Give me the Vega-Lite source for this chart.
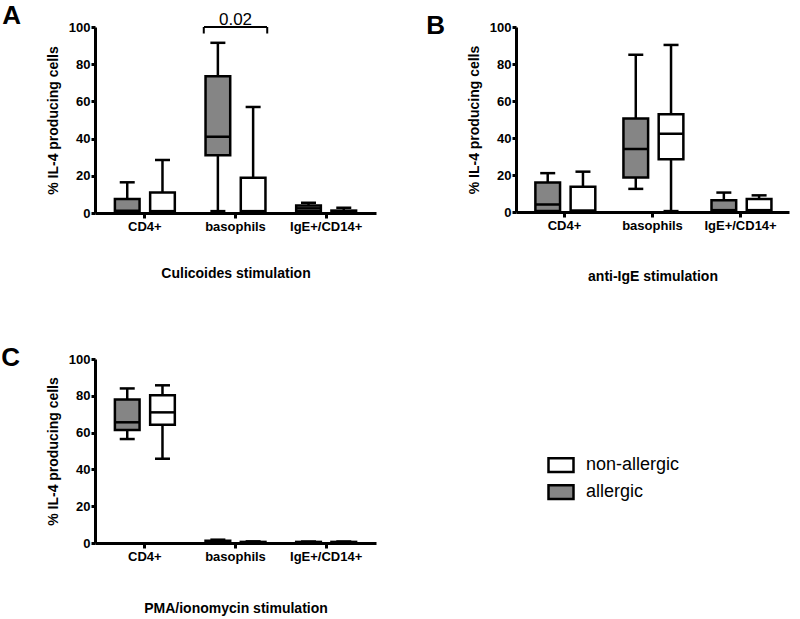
{
  "$schema": "https://vega.github.io/schema/vega-lite/v6.json",
  "padding": {"left": 1, "top": 3, "right": 5, "bottom": 5},
  "background": "white",
  "config": {
    "view": {"stroke": null},
    "font": "Liberation Sans",
    "axis": {"grid": false, "domainColor": "black", "domainWidth": 3, "tickColor": "black", "tickWidth": 3, "labelFont": "Liberation Sans", "labelFontWeight": "bold", "labelFontSize": 13, "labelColor": "black", "titleFont": "Liberation Sans", "titleFontWeight": "bold", "titleFontSize": 14, "titleColor": "black"},
    "axisY": {"tickSize": 4, "labelPadding": 1, "titlePadding": 8, "values": [0, 20, 40, 60, 80, 100]},
    "axisX": {"tickSize": 5, "labelAngle": 0, "labelPadding": 2, "titlePadding": 33},
    "title": {"anchor": "start", "font": "Liberation Sans", "fontSize": 26, "fontWeight": "bold", "color": "black", "offset": 0},
    "tick": {"color": "black", "opacity": 1}
  },
  "spacing": 62,
  "vconcat": [
    {
      "spacing": 50,
      "hconcat": [
        {
          "title": {"text": "A", "dx": -44, "dy": 22},
          "width": 281, "height": 186,
          "data": {"values": [
            {"cell": "CD4+", "group": "allergic", "min": 0, "q1": 0.5, "median": 1.2, "q3": 7.5, "max": 16.5},
            {"cell": "CD4+", "group": "non-allergic", "min": 0, "q1": 0.5, "median": 1, "q3": 11, "max": 28.5},
            {"cell": "basophils", "group": "allergic", "min": 1, "q1": 31, "median": 41, "q3": 73.5, "max": 91.5},
            {"cell": "basophils", "group": "non-allergic", "min": 0, "q1": 0.5, "median": 1, "q3": 19, "max": 57},
            {"cell": "IgE+/CD14+", "group": "allergic", "min": 0.5, "q1": 1, "median": 2.5, "q3": 4, "max": 5.5},
            {"cell": "IgE+/CD14+", "group": "non-allergic", "min": 0, "q1": 0.3, "median": 0.6, "q3": 1.3, "max": 2.8}
          ]},
          "encoding": {
            "x": {"field": "cell", "type": "nominal", "scale": {"domain": ["CD4+", "basophils", "IgE+/CD14+"], "paddingInner": 0.3, "paddingOuter": 0.2}, "axis": {"title": "Culicoides stimulation", "titlePadding": 33}},
            "xOffset": {"field": "group", "type": "nominal", "scale": {"domain": ["allergic", "non-allergic"], "paddingInner": 0.3, "paddingOuter": 0.05}}
          },
          "layer": [
            {"mark": {"type": "rule", "color": "black", "strokeWidth": 2.5}, "encoding": {"y": {"field": "min", "type": "quantitative", "scale": {"domain": [0, 100], "nice": false}, "axis": {"title": "% IL-4 producing cells"}}, "y2": {"field": "max"}}},
            {"mark": {"type": "bar", "stroke": "black", "strokeWidth": 2.5, "opacity": 1}, "encoding": {"y": {"field": "q1", "type": "quantitative"}, "y2": {"field": "q3"}, "color": {"field": "group", "type": "nominal", "scale": {"domain": ["non-allergic", "allergic"], "range": ["#ffffff", "#858585"]}, "legend": null}}},
            {"mark": {"type": "tick", "size": 24, "thickness": 2.5}, "encoding": {"y": {"field": "median", "type": "quantitative"}}},
            {"mark": {"type": "tick", "size": 15, "thickness": 2.5}, "encoding": {"y": {"field": "max", "type": "quantitative"}}},
            {"mark": {"type": "tick", "size": 15, "thickness": 2.5}, "encoding": {"y": {"field": "min", "type": "quantitative"}}},
            {
              "data": {"values": [{"cell": "basophils", "top": 100, "end": 96.5, "label": "0.02"}]},
              "layer": [
                {"mark": {"type": "tick", "size": 63, "thickness": 2}, "encoding": {"x": {"field": "cell", "type": "nominal"}, "xOffset": null, "y": {"field": "top", "type": "quantitative"}}},
                {"mark": {"type": "rule", "color": "black", "strokeWidth": 2}, "encoding": {"x": {"field": "cell", "type": "nominal", "bandPosition": 0}, "xOffset": null, "y": {"field": "end", "type": "quantitative"}, "y2": {"field": "top"}}},
                {"mark": {"type": "rule", "color": "black", "strokeWidth": 2}, "encoding": {"x": {"field": "cell", "type": "nominal", "bandPosition": 1}, "xOffset": null, "y": {"field": "end", "type": "quantitative"}, "y2": {"field": "top"}}},
                {"mark": {"type": "text", "fontSize": 17, "font": "Liberation Sans", "color": "black", "dy": -7}, "encoding": {"x": {"field": "cell", "type": "nominal"}, "xOffset": null, "y": {"field": "top", "type": "quantitative"}, "text": {"field": "label"}}}
              ]
            }
          ]
        },
        {
          "title": {"text": "B", "dx": -41, "dy": 22},
          "width": 273, "height": 185,
          "data": {"values": [
            {"cell": "CD4+", "group": "allergic", "min": 0, "q1": 0.5, "median": 4, "q3": 16, "max": 21},
            {"cell": "CD4+", "group": "non-allergic", "min": 0, "q1": 0.3, "median": 0.8, "q3": 13.7, "max": 21.8},
            {"cell": "basophils", "group": "allergic", "min": 12.5, "q1": 18.6, "median": 34, "q3": 50.5, "max": 85},
            {"cell": "basophils", "group": "non-allergic", "min": 0.5, "q1": 28.5, "median": 42.3, "q3": 52.8, "max": 90.3},
            {"cell": "IgE+/CD14+", "group": "allergic", "min": 0, "q1": 0.5, "median": 1, "q3": 6.3, "max": 10.5},
            {"cell": "IgE+/CD14+", "group": "non-allergic", "min": 0, "q1": 0.5, "median": 1, "q3": 7, "max": 9}
          ]},
          "encoding": {
            "x": {"field": "cell", "type": "nominal", "scale": {"domain": ["CD4+", "basophils", "IgE+/CD14+"], "paddingInner": 0.3, "paddingOuter": 0.2}, "axis": {"title": "anti-IgE stimulation", "titlePadding": 37}},
            "xOffset": {"field": "group", "type": "nominal", "scale": {"domain": ["allergic", "non-allergic"], "paddingInner": 0.3, "paddingOuter": 0.05}}
          },
          "layer": [
            {"mark": {"type": "rule", "color": "black", "strokeWidth": 2.5}, "encoding": {"y": {"field": "min", "type": "quantitative", "scale": {"domain": [0, 100], "nice": false}, "axis": {"title": "% IL-4 producing cells"}}, "y2": {"field": "max"}}},
            {"mark": {"type": "bar", "stroke": "black", "strokeWidth": 2.5, "opacity": 1}, "encoding": {"y": {"field": "q1", "type": "quantitative"}, "y2": {"field": "q3"}, "color": {"field": "group", "type": "nominal", "scale": {"domain": ["non-allergic", "allergic"], "range": ["#ffffff", "#858585"]}, "legend": null}}},
            {"mark": {"type": "tick", "size": 24, "thickness": 2.5}, "encoding": {"y": {"field": "median", "type": "quantitative"}}},
            {"mark": {"type": "tick", "size": 15, "thickness": 2.5}, "encoding": {"y": {"field": "max", "type": "quantitative"}}},
            {"mark": {"type": "tick", "size": 15, "thickness": 2.5}, "encoding": {"y": {"field": "min", "type": "quantitative"}}}
          ]
        }
      ]
    },
    {
      "hconcat": [
        {
          "title": {"text": "C", "dx": -45, "dy": 22},
          "width": 281, "height": 184,
          "data": {"values": [
            {"cell": "CD4+", "group": "allergic", "min": 56.5, "q1": 61.4, "median": 65.6, "q3": 78, "max": 84},
            {"cell": "CD4+", "group": "non-allergic", "min": 45.8, "q1": 64.3, "median": 71, "q3": 80.3, "max": 85.7},
            {"cell": "basophils", "group": "allergic", "min": 0, "q1": 0.3, "median": 0.7, "q3": 1.2, "max": 1.8},
            {"cell": "basophils", "group": "non-allergic", "min": 0, "q1": 0.2, "median": 0.4, "q3": 0.6, "max": 0.9},
            {"cell": "IgE+/CD14+", "group": "allergic", "min": 0, "q1": 0.2, "median": 0.4, "q3": 0.6, "max": 0.8},
            {"cell": "IgE+/CD14+", "group": "non-allergic", "min": 0, "q1": 0.2, "median": 0.4, "q3": 0.6, "max": 0.8}
          ]},
          "encoding": {
            "x": {"field": "cell", "type": "nominal", "scale": {"domain": ["CD4+", "basophils", "IgE+/CD14+"], "paddingInner": 0.3, "paddingOuter": 0.2}, "axis": {"title": "PMA/ionomycin stimulation", "titlePadding": 38}},
            "xOffset": {"field": "group", "type": "nominal", "scale": {"domain": ["allergic", "non-allergic"], "paddingInner": 0.3, "paddingOuter": 0.05}}
          },
          "layer": [
            {"mark": {"type": "rule", "color": "black", "strokeWidth": 2.5}, "encoding": {"y": {"field": "min", "type": "quantitative", "scale": {"domain": [0, 100], "nice": false}, "axis": {"title": "% IL-4 producing cells"}}, "y2": {"field": "max"}}},
            {"mark": {"type": "bar", "stroke": "black", "strokeWidth": 2.5, "opacity": 1}, "encoding": {"y": {"field": "q1", "type": "quantitative"}, "y2": {"field": "q3"}, "color": {"field": "group", "type": "nominal", "scale": {"domain": ["non-allergic", "allergic"], "range": ["#ffffff", "#858585"]}, "legend": {"orient": "none", "legendX": 452, "legendY": 92, "title": null, "symbolType": "M-1,-0.55H1V0.55H-1Z", "symbolSize": 625, "symbolStrokeColor": "black", "symbolStrokeWidth": 2.5, "symbolOpacity": 1, "labelFont": "Liberation Sans", "labelFontSize": 18, "labelColor": "black", "labelOffset": 11, "rowPadding": 1}}}},
            {"mark": {"type": "tick", "size": 24, "thickness": 2.5}, "encoding": {"y": {"field": "median", "type": "quantitative"}}},
            {"mark": {"type": "tick", "size": 15, "thickness": 2.5}, "encoding": {"y": {"field": "max", "type": "quantitative"}}},
            {"mark": {"type": "tick", "size": 15, "thickness": 2.5}, "encoding": {"y": {"field": "min", "type": "quantitative"}}}
          ]
        }
      ]
    }
  ],
  "resolve": {"scale": {"x": "independent", "y": "independent", "xOffset": "independent", "color": "independent"}, "legend": {"color": "independent"}}
}
